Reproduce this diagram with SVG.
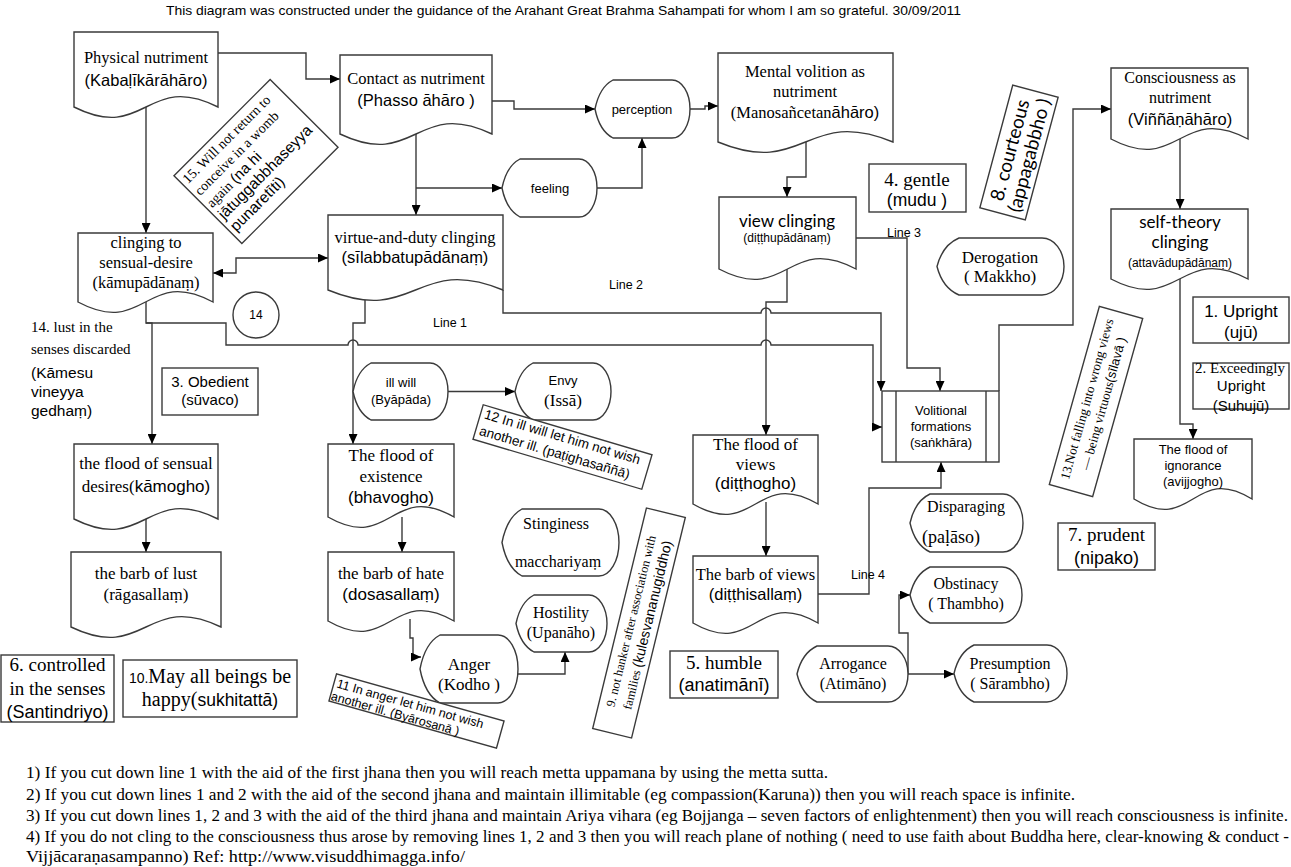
<svg xmlns="http://www.w3.org/2000/svg" width="1291" height="867" viewBox="0 0 1291 867">
<defs>
<marker id="ar" markerUnits="userSpaceOnUse" markerWidth="10" markerHeight="9" refX="10" refY="4.5" orient="auto-start-reverse" viewBox="0 0 10 9">
<path d="M0,0 L10,4.5 L0,9 Z" fill="#000"/>
</marker>
<style>
.n{fill:#fff;stroke:#3a3a3a;stroke-width:1.4}
.c{fill:none;stroke:#3a3a3a;stroke-width:1.4}
.m{marker-end:url(#ar)}
text{fill:#000;text-anchor:middle}
.s{font-family:"Liberation Serif","Times New Roman",serif}
.a{font-family:"Liberation Sans",Arial,sans-serif}
.l{font-family:Lato,"Liberation Sans",sans-serif}
.st{text-anchor:start}
.f{font-family:"Liberation Serif","Times New Roman",serif;font-size:16px;text-anchor:start}
</style>
</defs>
<rect width="1291" height="867" fill="#fff"/>
<text class="a" x="166" y="15" font-size="13" text-anchor="start" textLength="795" lengthAdjust="spacingAndGlyphs" style="text-anchor:start">This diagram was constructed under the guidance of the Arahant Great Brahma Sahampati for whom I am so grateful. 30/09/2011</text>

<g id="connectors">
<path class="c m" d="M218 53 H306 V79 H340"/>
<path class="c m" d="M146 107 V233"/>
<path class="c m" d="M492 101 H514 V109 H595"/>
<path class="c m" d="M416 134 V215"/>
<path class="c m" d="M416 188 H502"/>
<path class="c m" d="M597 188 H642 V138"/>
<path class="c m" d="M690 109 H705 V106 H718"/>
<path class="c m" d="M806 142 V177 H787 V197"/>
<path class="c m" d="M213 273 H236 V258 H328" style="marker-start:url(#ar)"/>
<path class="c m" d="M146 302 V323 H152 V444"/>
<path class="c m" d="M146 323 H226 V345 H348 A5 5 0 0 1 358 345 H761 A5 5 0 0 1 771 345 H873 V427 H882"/>
<path class="c m" d="M365 292 V323 H353 V444"/>
<path class="c m" d="M503 290 V313 H761 A5 5 0 0 1 771 313 H881 V391"/>
<path class="c m" d="M787 269 V302 H766 V435"/>
<path class="c m" d="M856 238 H907 V368 H940 V391"/>
<path class="c m" d="M818 594 H869 V488 H941 V462"/>
<path class="c m" d="M999 391 V325 H1073 V109 H1111"/>
<path class="c m" d="M1180 139 V209"/>
<path class="c m" d="M1180 279 V424 H1193 V439"/>
<path class="c m" d="M766 502 V556"/>
<path class="c m" d="M146 519 V552"/>
<path class="c m" d="M402 517 V552"/>
<path class="c m" d="M410 619 V638 H413 V657 H421"/>
<path class="c m" d="M518 674 H565 V652"/>
<path class="c m" d="M448 391.5 H515"/>
<path class="c m" d="M908 674 V633 H899 V595 H910"/>
<path class="c m" d="M908 674 H954"/>
<text class="a" x="450" y="327" font-size="12.5">Line 1</text>
<text class="a" x="626" y="289" font-size="12.5">Line 2</text>
<text class="a" x="904" y="237" font-size="12.5">Line 3</text>
<text class="a" x="868" y="579" font-size="12.5">Line 4</text>
</g>

<g id="physical">
<path class="n" d="M74 32 H218 V107 C146 71 146 143 74 107 Z"/>
<text class="s" x="146" y="63" font-size="16.5">Physical nutriment</text>
<text class="a" x="146" y="86" font-size="16.5">(Kabaḷīkārāhāro)</text>
</g>
<g id="contact">
<path class="n" d="M340 55 H492 V134 C416 98 416 170 340 134 Z"/>
<text class="s" x="416" y="84" font-size="16.5">Contact as nutriment</text>
<text class="a" x="416" y="106" font-size="16.5">(Phasso āhāro )</text>
</g>
<g id="perception">
<path class="n" d="M613 80 H672 A18 29 0 0 1 672 138 H613 Q599.5 131 595 109 Q599.5 87 613 80 Z"/>
<text class="a" x="642" y="114" font-size="13">perception</text>
</g>
<g id="feeling">
<path class="n" d="M520 159 H579 A18 29 0 0 1 579 217 H520 Q506.5 210 502 188 Q506.5 166 520 159 Z"/>
<text class="a" x="550" y="193" font-size="13">feeling</text>
</g>
<g id="mental">
<path class="n" d="M718 53 H893 V142 C805.5 106 805.5 178 718 142 Z"/>
<text class="s" x="805" y="77" font-size="16.5">Mental volition as</text>
<text class="s" x="805" y="97" font-size="16.5">nutriment</text>
<text x="805" y="118" font-size="16.5"><tspan class="s">(Manosañcetan</tspan><tspan class="a">āhāro)</tspan></text>
</g>
<g id="view-clinging">
<path class="n" d="M719 197 H856 V269 C787.5 233 787.5 305 719 269 Z"/>
<text class="l" x="787" y="227" font-size="17">view clinging</text>
<text class="a" x="787" y="242" font-size="12">(diṭṭhupādānaṃ)</text>
</g>
<g id="gentle">
<rect class="n" x="869" y="164" width="97" height="48"/>
<text class="s" x="917" y="186" font-size="19">4. gentle</text>
<text class="a" x="917" y="206" font-size="17.5">(mudu )</text>
</g>
<g id="courteous" transform="translate(1019,152.5) rotate(-75)">
<rect class="n" x="-63.5" y="-23.5" width="127" height="47"/>
<text class="l" x="0" y="-3" font-size="19">8. courteous</text>
<text class="l" x="0" y="17" font-size="19">(appagabbho )</text>
</g>
<g id="consciousness">
<path class="n" d="M1111 68 H1248 V139 C1179.5 103 1179.5 175 1111 139 Z"/>
<text class="s" x="1180" y="83" font-size="16">Consciousness as</text>
<text class="s" x="1180" y="103" font-size="16">nutriment</text>
<text class="a" x="1180" y="125" font-size="16.5">(Viññāṇāhāro)</text>
</g>
<g id="self-theory">
<path class="n" d="M1111 209 H1248 V279 C1179.5 243 1179.5 315 1111 279 Z"/>
<text class="l" x="1180" y="228" font-size="17">self-theory</text>
<text class="l" x="1180" y="248" font-size="17">clinging</text>
<text class="a" x="1180" y="267" font-size="12">(attavādupādānaṃ)</text>
</g>
<g id="upright">
<rect class="n" x="1193" y="297" width="96" height="46"/>
<text class="a" x="1241" y="317" font-size="17">1. Upright</text>
<text class="a" x="1241" y="338" font-size="17">(ujū)</text>
</g>
<g id="exceedingly">
<rect class="n" x="1193" y="363" width="96" height="46"/>
<text class="s" x="1240" y="373" font-size="15">2. Exceedingly</text>
<text class="a" x="1241" y="391" font-size="15">Upright</text>
<text class="a" x="1241" y="411" font-size="15">(Suhujū)</text>
</g>
<g id="ignorance">
<path class="n" d="M1134 439 H1252 V499 C1193 463 1193 535 1134 499 Z"/>
<text class="a" x="1193" y="454" font-size="13">The flood of</text>
<text class="a" x="1193" y="470" font-size="13">ignorance</text>
<text class="a" x="1193" y="486" font-size="13">(avijjogho)</text>
</g>
<g id="not-falling" transform="translate(1096,401.5) rotate(-74.3)">
<rect class="n" x="-92.5" y="-22.5" width="185" height="45"/>
<text class="s" x="0" y="-5" font-size="13">13.Not falling into wrong views</text>
<text x="0" y="12" font-size="13"><tspan class="s">— being virtuous</tspan><tspan class="a">(sīlavā )</tspan></text>
</g>
<g id="derogation">
<path class="n" d="M959 238 H1042 A22 28.5 0 0 1 1042 295 H959 Q942.5 288 937 266.5 Q942.5 245 959 238 Z"/>
<text class="s" x="1000" y="263" font-size="17">Derogation</text>
<text class="s" x="1000" y="282" font-size="17">( Makkho)</text>
</g>
<g id="volitional">
<rect class="n" x="882" y="391" width="117" height="71"/>
<path class="c" d="M896 391 V462 M986 391 V462"/>
<text class="a" x="941" y="415" font-size="13">Volitional</text>
<text class="a" x="941" y="431" font-size="13">formations</text>
<text class="a" x="941" y="447" font-size="13">(saṅkhāra)</text>
</g>
<g id="clinging-sensual">
<path class="n" d="M78 233 H213 V302 C145.5 266 145.5 338 78 302 Z"/>
<text class="s" x="146" y="248" font-size="16.5">clinging to</text>
<text class="s" x="146" y="268" font-size="16.5">sensual-desire</text>
<text class="s" x="146" y="288" font-size="16.5">(kāmupādānaṃ)</text>
</g>
<g id="c14">
<circle class="n" cx="256" cy="315" r="23"/>
<text class="a" x="256" y="319" font-size="12">14</text>
</g>
<g id="lust-discarded">
<text class="s st" x="31" y="332" font-size="15">14. lust in the</text>
<text class="s st" x="31" y="354" font-size="15">senses discarded</text>
<text class="a st" x="31" y="378" font-size="15.5">(Kāmesu</text>
<text class="a st" x="31" y="397" font-size="15.5">vineyya</text>
<text class="a st" x="31" y="416" font-size="15.5">gedhaṃ)</text>
</g>
<g id="obedient">
<rect class="n" x="162" y="368" width="96" height="47"/>
<text class="a" x="210" y="387" font-size="15">3. Obedient</text>
<text class="a" x="210" y="405" font-size="15">(sūvaco)</text>
</g>
<g id="virtue">
<path class="n" d="M328 215 H503 V290 C415.5 254 415.5 326 328 290 Z"/>
<text class="s" x="415" y="243" font-size="16.5">virtue-and-duty clinging</text>
<text class="a" x="415" y="263" font-size="16.5">(sīlabbatupādānaṃ)</text>
</g>
<g id="ill-will">
<path class="n" d="M371 363 H430 A18 28.5 0 0 1 430 420 H371 Q357.5 413 353 391.5 Q357.5 370 371 363 Z"/>
<text class="a" x="401" y="387" font-size="13">ill will</text>
<text class="a" x="401" y="404" font-size="13">(Byāpāda)</text>
</g>
<g id="envy">
<path class="n" d="M533 363 H593 A18 28.5 0 0 1 593 420 H533 Q519.5 413 515 391.5 Q519.5 370 533 363 Z"/>
<text class="a" x="563" y="385" font-size="13">Envy</text>
<text class="s" x="563" y="406" font-size="17">(Issā)</text>
</g>
<g id="ill-will-note" transform="translate(562.5,447) rotate(16.5)">
<rect class="n" x="-88" y="-18" width="176" height="36"/>
<text class="a st" x="-84" y="-5" font-size="13.5">12 In ill will let him not wish</text>
<text class="a st" x="-84" y="12" font-size="13.5">another ill. (paṭighasaññā)</text>
</g>
<g id="flood-existence">
<path class="n" d="M328 444 H454 V517 C391 481 391 553 328 517 Z"/>
<text class="s" x="391" y="461" font-size="17">The flood of</text>
<text class="s" x="391" y="482" font-size="17">existence</text>
<text class="a" x="391" y="503" font-size="17">(bhavogho)</text>
</g>
<g id="barb-hate">
<path class="n" d="M328 552 H454 V621 C391 585 391 657 328 621 Z"/>
<text class="s" x="391" y="579" font-size="17">the barb of hate</text>
<text class="a" x="391" y="600" font-size="17">(dosasallaṃ)</text>
</g>
<g id="stinginess">
<path class="n" d="M522 509 H599 A20 33.5 0 0 1 599 576 H522 Q507 568 502 542.5 Q507 517 522 509 Z"/>
<text class="s" x="556" y="529" font-size="16">Stinginess</text>
<text class="s" x="558" y="567" font-size="16">macchariyaṃ</text>
</g>
<g id="hostility">
<path class="n" d="M534 595 H589 A18 28.5 0 0 1 589 652 H534 Q520.5 645 516 623.5 Q520.5 602 534 595 Z"/>
<text class="s" x="561" y="618" font-size="16">Hostility</text>
<text class="s" x="561" y="638" font-size="16">(Upanāho)</text>
</g>
<g id="anger">
<path class="n" d="M440 635 H498 A20 34 0 0 1 498 703 H440 Q425 695 420 669 Q425 643 440 635 Z"/>
<text class="s" x="469" y="670" font-size="17">Anger</text>
<text class="s" x="469" y="690" font-size="17">(Kodho )</text>
</g>
<g id="anger-note" transform="translate(416.5,711) rotate(15.7)">
<rect class="n" x="-87" y="-14" width="174" height="28"/>
<text class="a st" x="-84" y="-1" font-size="12.5">11 In anger let him not wish</text>
<text class="a st" x="-86" y="12.5" font-size="12.5">another ill. (Byārosanā )</text>
</g>
<g id="flood-sensual">
<path class="n" d="M74 444 H218 V519 C146 483 146 555 74 519 Z"/>
<text class="s" x="146" y="469" font-size="17">the flood of sensual</text>
<text x="146" y="492" font-size="17"><tspan class="s">desires(</tspan><tspan class="a">kāmogho)</tspan></text>
</g>
<g id="barb-lust">
<path class="n" d="M71 552 H221 V627 C146 591 146 663 71 627 Z"/>
<text class="s" x="146" y="579" font-size="17">the barb of lust</text>
<text class="s" x="146" y="600" font-size="17">(rāgasallaṃ)</text>
</g>
<g id="controlled">
<rect class="n" x="1" y="655" width="113" height="67"/>
<text class="s" x="57.5" y="671" font-size="19">6. controlled</text>
<text class="s" x="57.5" y="695" font-size="19">in the senses</text>
<text class="a" x="57.5" y="718" font-size="18">(Santindriyo)</text>
</g>
<g id="may-all">
<rect class="n" x="123" y="660" width="174" height="57"/>
<text x="210" y="683"><tspan class="a" font-size="14">10.</tspan><tspan class="s" font-size="20">May all beings be</tspan></text>
<text x="210" y="706"><tspan class="s" font-size="20">happy(</tspan><tspan class="a" font-size="17.5">sukhitattā)</tspan></text>
</g>
<g id="flood-views">
<path class="n" d="M693 435 H818 V504 C755.5 468 755.5 540 693 504 Z"/>
<text class="s" x="755.5" y="450" font-size="17">The flood of</text>
<text class="s" x="755.5" y="470" font-size="17">views</text>
<text class="a" x="755.5" y="489" font-size="17">(diṭṭhogho)</text>
</g>
<g id="barb-views">
<path class="n" d="M693 556 H818 V623 C755.5 587 755.5 659 693 623 Z"/>
<text class="s" x="755.5" y="580" font-size="16.5">The barb of views</text>
<text class="a" x="755.5" y="600" font-size="16.5">(diṭṭhisallaṃ)</text>
</g>
<g id="not-hanker" transform="translate(639,623) rotate(-76.3)">
<rect class="n" x="-113.5" y="-20" width="227" height="40"/>
<text class="s" x="0" y="-4" font-size="12.5">9. not hanker after association with</text>
<text x="0" y="13"><tspan class="s" font-size="12.5">families </tspan><tspan class="a" font-size="14">(kulesvananugiddho)</tspan></text>
</g>
<g id="humble">
<rect class="n" x="670" y="651" width="108" height="47"/>
<text class="s" x="724" y="669" font-size="19">5. humble</text>
<text class="a" x="724" y="691" font-size="18">(anatimānī)</text>
</g>
<g id="disparaging">
<path class="n" d="M930 494 H1003 A20 29 0 0 1 1003 552 H930 Q915 545 910 523 Q915 501 930 494 Z"/>
<text class="s" x="966" y="512" font-size="16">Disparaging</text>
<text class="s st" x="922" y="543" font-size="18">(paḷāso)</text>
</g>
<g id="obstinacy">
<path class="n" d="M930 567 H1002 A20 28 0 0 1 1002 623 H930 Q915 616 910 595 Q915 574 930 567 Z"/>
<text class="s" x="966" y="589" font-size="16">Obstinacy</text>
<text class="s" x="966" y="609" font-size="16">( Thambho)</text>
</g>
<g id="arrogance">
<path class="n" d="M817 646 H888 A20 28 0 0 1 888 702 H817 Q802 695 797 674 Q802 653 817 646 Z"/>
<text class="s" x="853" y="669" font-size="16">Arrogance</text>
<text class="s" x="853" y="689" font-size="16">(Atimāno)</text>
</g>
<g id="presumption">
<path class="n" d="M974 645 H1047 A20 28.5 0 0 1 1047 702 H974 Q959 695 954 673.5 Q959 652 974 645 Z"/>
<text class="s" x="1010" y="669" font-size="16">Presumption</text>
<text class="s" x="1010" y="689" font-size="16">( Sārambho)</text>
</g>
<g id="prudent">
<rect class="n" x="1058" y="523" width="97" height="47"/>
<text class="s" x="1106.5" y="541" font-size="19">7. prudent</text>
<text class="a" x="1106.5" y="564" font-size="18">(nipako)</text>
</g>
<g id="womb" transform="translate(256,161.5) rotate(-45)">
<rect class="n" x="-68" y="-48" width="136" height="96"/>
<text class="s st" x="-64" y="-32" font-size="14">15. Will not return to</text>
<text class="s st" x="-64" y="-15" font-size="14">conceive in a womb</text>
<text class="st" x="-64" y="2"><tspan class="s" font-size="14">again </tspan><tspan class="a" font-size="15">(na hi</tspan></text>
<text class="a st" x="-64" y="19" font-size="15.5">jātuggabbhaseyya</text>
<text class="a st" x="-64" y="36" font-size="15.5">punaretīti)</text>
</g>

<g id="footer">
<text class="f" x="26" y="778" textLength="802" lengthAdjust="spacingAndGlyphs">1) If you cut down line 1 with the aid of the first jhana then you will reach metta uppamana by using the metta sutta.</text>
<text class="f" x="26" y="800" textLength="1049" lengthAdjust="spacingAndGlyphs">2) If you cut down lines 1 and 2 with the aid of the second jhana and maintain illimitable (eg compassion(Karuna)) then you will reach space is infinite.</text>
<text class="f" x="26" y="821" textLength="1262" lengthAdjust="spacingAndGlyphs">3) If you cut down lines 1, 2 and 3 with the aid of the third jhana and maintain Ariya vihara (eg Bojjanga – seven factors of enlightenment) then you will reach consciousness is infinite.</text>
<text class="f" x="26" y="842" textLength="1263" lengthAdjust="spacingAndGlyphs">4) If you do not cling to the consciousness thus arose by removing lines 1, 2 and 3 then you will reach plane of nothing ( need to use faith about Buddha here, clear-knowing &amp; conduct -</text>
<text class="f" x="26" y="862" textLength="439" lengthAdjust="spacingAndGlyphs">Vijjācaraṇasampanno) Ref: http://www.visuddhimagga.info/</text>
</g>
</svg>
